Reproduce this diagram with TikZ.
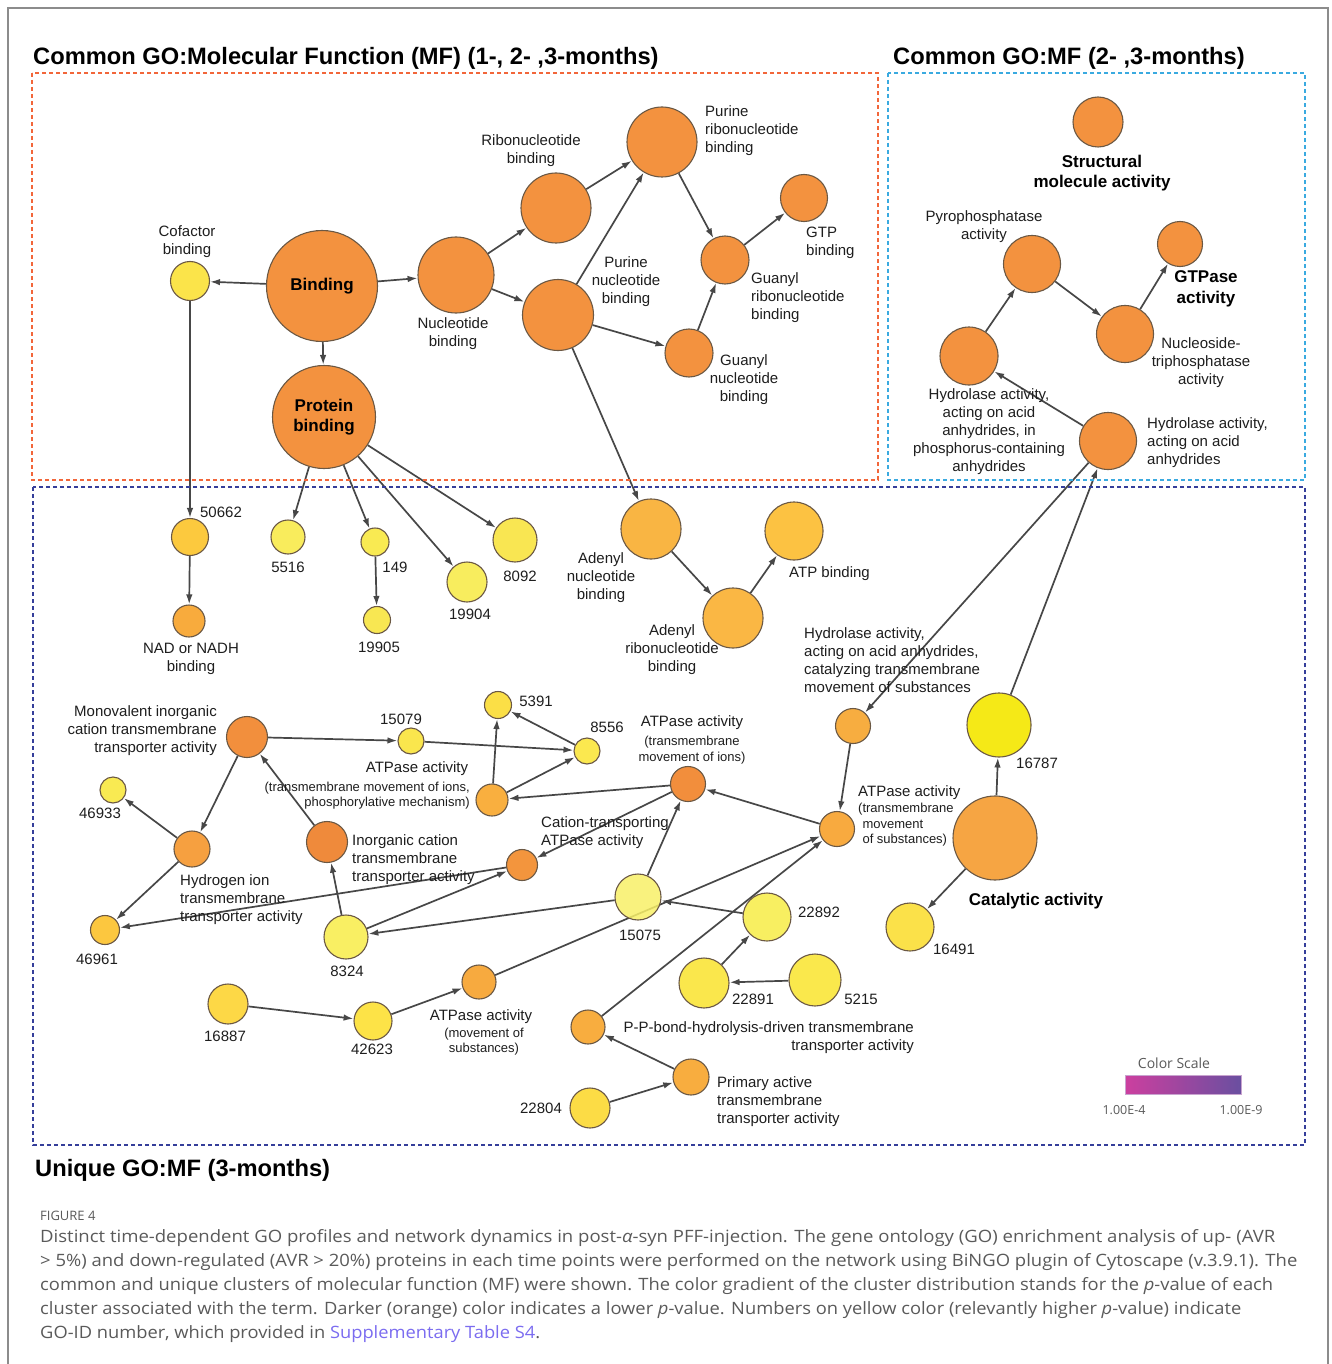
\documentclass[tikz,border=0pt]{standalone}
\usepackage{fontspec}
\usepackage{graphicx}
\setmainfont{Liberation Sans}
\newfontfamily\capfont{Open Sans}
\usetikzlibrary{arrows.meta}
\pgfdeclarelayer{background}
\pgfdeclarelayer{edges}
\pgfsetlayers{background,edges,main}
\definecolor{nodeline}{HTML}{6B5844}
\definecolor{edgecol}{HTML}{474747}
\definecolor{txtcol}{HTML}{1E1E1E}
\definecolor{capgray}{HTML}{5A5A5A}
\definecolor{linkcol}{HTML}{7B6CF0}
\definecolor{frameGray}{HTML}{8C8C8C}
\definecolor{boxRed}{HTML}{F2663A}
\definecolor{boxLight}{HTML}{3AAAE0}
\definecolor{boxNavy}{HTML}{353E9A}
\definecolor{csL}{HTML}{CC3F9F}
\definecolor{csR}{HTML}{6A4FA0}
\definecolor{cOr}{HTML}{F3923F}
\definecolor{cCof}{HTML}{FBE44A}
\definecolor{c50662}{HTML}{FCC93E}
\definecolor{cNad}{HTML}{F8AB3D}
\definecolor{c5516}{HTML}{F9EC5C}
\definecolor{c149}{HTML}{F9EA52}
\definecolor{c19905}{HTML}{F8E752}
\definecolor{c19904}{HTML}{F8ED5E}
\definecolor{c8092}{HTML}{F9E652}
\definecolor{cAden}{HTML}{F9B543}
\definecolor{cAdenR}{HTML}{FAB744}
\definecolor{cAtpB}{HTML}{FCC242}
\definecolor{cHydCat}{HTML}{F7AD40}
\definecolor{c16787}{HTML}{F5E917}
\definecolor{cCat}{HTML}{F6A543}
\definecolor{c16491}{HTML}{FBE149}
\definecolor{cAtpSub}{HTML}{F8AA3F}
\definecolor{cAtpIons}{HTML}{F28E3C}
\definecolor{cCation}{HTML}{F3953D}
\definecolor{c15075}{HTML}{F8F068}
\definecolor{c22892}{HTML}{F8EF61}
\definecolor{c22891}{HTML}{FAE74C}
\definecolor{c5215}{HTML}{FAE84C}
\definecolor{cPP}{HTML}{F8AD3F}
\definecolor{cPrim}{HTML}{F8AD3F}
\definecolor{c22804}{HTML}{FCDC45}
\definecolor{cAtpMov}{HTML}{F7AA3F}
\definecolor{c42623}{HTML}{FDE347}
\definecolor{c16887}{HTML}{FDD846}
\definecolor{c8324}{HTML}{F9EF63}
\definecolor{cInorg}{HTML}{EF8A3B}
\definecolor{cMono}{HTML}{F28F3D}
\definecolor{cHydrogen}{HTML}{F6A040}
\definecolor{c46933}{HTML}{F9EA52}
\definecolor{c46961}{HTML}{FCC73F}
\definecolor{c15079}{HTML}{FAE64D}
\definecolor{c5391}{HTML}{FBDF46}
\definecolor{c8556}{HTML}{FBE84F}
\definecolor{cAtpPhos}{HTML}{F9AF3F}
\begin{document}
\begin{tikzpicture}[x=1pt,y=-1pt,
  gn/.style 2 args={circle,draw=nodeline,line width=1.1pt,fill=#1,minimum size=#2pt,inner sep=0pt},
  ed/.style={draw=edgecol,line width=1.7pt,-{Latex[length=10pt,width=6.5pt]}},
  lb/.style={inner sep=0pt,align=center,font=\fontsize{15}{18}\selectfont,text=txtcol},
  lbl/.style={lb,align=left,anchor=west},
  lbr/.style={lb,align=right,anchor=east},
  lbs/.style={inner sep=0pt,align=center,font=\fontsize{13}{15.5}\selectfont,text=txtcol},
  bl/.style={inner sep=0pt,align=center,font=\bfseries\fontsize{17}{20.5}\selectfont,text=black},
  ttl/.style={inner sep=0pt,anchor=base west,font=\bfseries\fontsize{23.7}{28}\selectfont,text=black},
  capl/.style={inner sep=0pt,anchor=west,font=\capfont\fontsize{17}{20}\selectfont,text=capgray},
  dbox/.style={line width=2pt,dash pattern=on 4pt off 3pt}]
\useasboundingbox (0,0) rectangle (1331,1364);
\begin{pgfonlayer}{background}
\fill[white] (0,0) rectangle (1331,1364);
\end{pgfonlayer}
\draw[frameGray,line width=1.5pt] (8,1364) -- (8,8) -- (1328,8) -- (1328,1364);

% titles
\node[ttl] (t1) at (33,65) {Common GO:Molecular Function (MF) (1-, 2- ,3-months)};
\node[ttl] (t2) at (893,65) {Common GO:MF (2- ,3-months)};
\node[ttl] (t3) at (35,1176) {Unique GO:MF (3-months)};

% dashed boxes
\draw[dbox,boxRed] (32,73) rectangle (878,480);
\draw[dbox,boxLight] (888,73) rectangle (1305,480);
\draw[dbox,boxNavy] (33,487) rectangle (1305,1145);

% ---------- top-left cluster
\node[gn={cOr}{111},font=\bfseries\fontsize{17}{20}\selectfont] (binding) at (322,286) {Binding};
\node[gn={cOr}{103},align=center,font=\bfseries\fontsize{17}{20.5}\selectfont] (protein) at (324,417) {Protein\\binding};
\node[gn={cCof}{39}] (cofactor) at (190,281) {};
\node[gn={cOr}{76}] (nucleotide) at (456,275) {};
\node[gn={cOr}{70}] (ribonuc) at (556,208) {};
\node[gn={cOr}{71}] (purnuc) at (558,315) {};
\node[gn={cOr}{70}] (purribo) at (662,142) {};
\node[gn={cOr}{48}] (guanylribo) at (725,260) {};
\node[gn={cOr}{47}] (gtp) at (804,198) {};
\node[gn={cOr}{48}] (guanylnuc) at (689,353) {};
\node[lb] (lcof) at (187,242) {Cofactor\\binding};
\node[lb] (lnuc) at (453,334) {Nucleotide\\binding};
\node[lb] (lribo) at (531,151) {Ribonucleotide\\binding};
\node[lb] (lpurnuc) at (626,282) {Purine\\nucleotide\\binding};
\node[lbl] (lpurribo) at (705,131) {Purine\\ribonucleotide\\binding};
\node[lbl] (lgtp) at (806,243) {GTP\\binding};
\node[lbl] (lgribo) at (751,298) {Guanyl\\ribonucleotide\\binding};
\node[lb] (lgnuc) at (744,380) {Guanyl\\nucleotide\\binding};

% ---------- top-right cluster
\node[gn={cOr}{50}] (structural) at (1098,122) {};
\node[bl] (lstruct) at (1102,173) {Structural\\molecule activity};
\node[gn={cOr}{57}] (pyro) at (1032,264) {};
\node[lb] (lpyro) at (984,227) {Pyrophosphatase\\activity};
\node[gn={cOr}{45}] (gtpase) at (1180,244) {};
\node[bl] (lgtpase) at (1206,289) {GTPase\\activity};
\node[gn={cOr}{57}] (ntpase) at (1125,334) {};
\node[lb] (lntpase) at (1201,363) {Nucleoside-\\triphosphatase\\activity};
\node[gn={cOr}{58}] (hydphos) at (969,356) {};
\node[lb] (lhydphos) at (989,432) {Hydrolase activity,\\acting on acid\\anhydrides, in\\phosphorus-containing\\anhydrides};
\node[gn={cOr}{57}] (hydacid) at (1108,441) {};
\node[lbl] (lhydacid) at (1147,443) {Hydrolase activity,\\acting on acid\\anhydrides};

% ---------- bottom cluster
\node[gn={c50662}{37}] (n50662) at (190,537) {};
\node[lb] (l50662) at (221,512) {50662};
\node[gn={cNad}{32}] (nad) at (189,621) {};
\node[lb] (lnad) at (191,659) {NAD or NADH\\binding};
\node[gn={c5516}{34}] (n5516) at (288,537) {};
\node[lb] (l5516) at (288,567) {5516};
\node[gn={c149}{28}] (n149) at (375,542) {};
\node[lb] (l149) at (395,567) {149};
\node[gn={c19905}{27}] (n19905) at (377,620) {};
\node[lb] (l19905) at (379,647) {19905};
\node[gn={c19904}{40}] (n19904) at (467,582) {};
\node[lb] (l19904) at (470,614) {19904};
\node[gn={c8092}{44}] (n8092) at (515,540) {};
\node[lb] (l8092) at (520,576) {8092};
\node[gn={cAden}{60}] (adenylnuc) at (651,529) {};
\node[lb] (ladenylnuc) at (601,578) {Adenyl\\nucleotide\\binding};
\node[gn={cAdenR}{60}] (adenylribo) at (733,618) {};
\node[lb] (ladenylribo) at (672,650) {Adenyl\\ribonucleotide\\binding};
\node[gn={cAtpB}{58}] (atpbind) at (794,531) {};
\node[lbl] (latpbind) at (789,574) {ATP binding};
\node[gn={cHydCat}{35}] (hydcat) at (853,726) {};
\node[lbl] (lhydcat) at (804,660) {Hydrolase activity,\\acting on acid anhydrides,\\catalyzing transmembrane\\movement of substances};
\node[gn={c16787}{64}] (n16787) at (999,725) {};
\node[lb] (l16787) at (1037,763) {16787};
\node[gn={cCat}{84}] (catalytic) at (995,838) {};
\node[bl] (lcatalytic) at (1036,901) {Catalytic activity};
\node[gn={c16491}{48}] (n16491) at (910,927) {};
\node[lb] (l16491) at (954,949) {16491};
\node[gn={cAtpSub}{35}] (atpsub) at (837,829) {};
\node[lbl] (latpsub) at (858,793) {ATPase activity};
\node[lbs,align=left,anchor=west] (latpsub2) at (858,825) {(transmembrane\\\hphantom{(}movement\\\hphantom{(}of substances)};
\node[gn={cAtpIons}{35}] (atpions) at (688,784) {};
\node[lb] (latpions) at (692,723) {ATPase activity};
\node[lbs] (latpions2) at (692,750) {(transmembrane\\movement of ions)};
\node[gn={cCation}{31}] (cation) at (522,865) {};
\node[lbl] (lcation) at (541,833) {Cation-transporting\\ATPase activity};
\node[gn={c15075}{46},fill opacity=0.85] (n15075) at (638,897) {};
\node[lb] (l15075) at (640,935) {15075};
\node[gn={c22892}{48}] (n22892) at (767,917) {};
\node[lb] (l22892) at (819,912) {22892};
\node[gn={c22891}{50}] (n22891) at (704,983) {};
\node[lb] (l22891) at (753,999) {22891};
\node[gn={c5215}{52}] (n5215) at (815,980) {};
\node[lb] (l5215) at (861,999) {5215};
\node[gn={cPP}{34}] (pp) at (588,1027) {};
\node[lbr] (lpp) at (914,1038) {P-P-bond-hydrolysis-driven transmembrane\\transporter activity};
\node[gn={cPrim}{36}] (primary) at (691,1077) {};
\node[lbl] (lprimary) at (717,1102) {Primary active\\transmembrane\\transporter activity};
\node[gn={c22804}{40}] (n22804) at (590,1108) {};
\node[lb] (l22804) at (541,1108) {22804};
\node[gn={cAtpMov}{34}] (atpmov) at (479,982) {};
\node[lb] (latpmov) at (481,1017) {ATPase activity};
\node[lbs] (latpmov2) at (484,1041.5) {(movement of\\substances)};
\node[gn={c42623}{38}] (n42623) at (373,1021) {};
\node[lb] (l42623) at (372,1049) {42623};
\node[gn={c16887}{40}] (n16887) at (228,1004) {};
\node[lb] (l16887) at (225,1036) {16887};
\node[gn={c8324}{44}] (n8324) at (346,937) {};
\node[lb] (l8324) at (347,971) {8324};
\node[gn={cInorg}{41}] (inorg) at (327,842) {};
\node[lbl] (linorg) at (352,860) {Inorganic cation\\transmembrane\\transporter activity};
\node[gn={cMono}{41}] (mono) at (247,737) {};
\node[lbr] (lmono) at (217,731) {Monovalent inorganic\\cation transmembrane\\transporter activity};
\node[gn={c15079}{26}] (n15079) at (411,741) {};
\node[lb] (l15079) at (401,719) {15079};
\node[gn={c5391}{27}] (n5391) at (498,705) {};
\node[lb] (l5391) at (536,701) {5391};
\node[gn={c8556}{26}] (n8556) at (587,751) {};
\node[lb] (l8556) at (607,727) {8556};
\node[gn={cAtpPhos}{32}] (atpphos) at (492,800) {};
\node[lb] (latpphos) at (417,769) {ATPase activity};
\node[lbs,align=right,anchor=east] (latpphos2) at (470,795.5) {(transmembrane movement of ions,\\phosphorylative mechanism)};
\node[gn={c46933}{26}] (n46933) at (113,790) {};
\node[lb] (l46933) at (100,813) {46933};
\node[gn={cHydrogen}{36}] (hydrogen) at (192,849) {};
\node[lbl] (lhydrogen) at (180,900) {Hydrogen ion\\transmembrane\\transporter activity};
\node[gn={c46961}{29}] (n46961) at (105,930) {};
\node[lb] (l46961) at (97,959) {46961};

% color scale
\node[minimum width=116pt,minimum height=19pt,inner sep=0pt,left color=csL,right color=csR,draw=csL!40!csR!50,line width=0.6pt] (cscale) at (1183,1084.5) {};
\node[inner sep=0pt,font=\capfont\fontsize{14}{16}\selectfont,text=capgray] (cstitle) at (1174,1063) {Color Scale};
\node[inner sep=0pt,font=\capfont\fontsize{12.5}{14}\selectfont,text=capgray] (csl) at (1124,1110) {1.00E-4};
\node[inner sep=0pt,font=\capfont\fontsize{12.5}{14}\selectfont,text=capgray] (csr) at (1241,1110) {1.00E-9};

% edges
\begin{pgfonlayer}{edges}
\draw[ed] (binding) -- (cofactor);
\draw[ed] (binding) -- (nucleotide);
\draw[ed] (binding) -- (protein);
\draw[ed] (nucleotide) -- (ribonuc);
\draw[ed] (nucleotide) -- (purnuc);
\draw[ed] (ribonuc) -- (purribo);
\draw[ed] (purnuc) -- (purribo);
\draw[ed] (purnuc) -- (guanylnuc);
\draw[ed] (purnuc) -- (adenylnuc);
\draw[ed] (purribo) -- (guanylribo);
\draw[ed] (guanylribo) -- (gtp);
\draw[ed] (guanylnuc) -- (guanylribo);
\draw[ed] (cofactor) -- (n50662);
\draw[ed] (n50662) -- (nad);
\draw[ed] (protein) -- (n5516);
\draw[ed] (protein) -- (n149);
\draw[ed] (protein) -- (n19904);
\draw[ed] (protein) -- (n8092);
\draw[ed] (n149) -- (n19905);
\draw[ed] (adenylnuc) -- (adenylribo);
\draw[ed] (adenylribo) -- (atpbind);
\draw[ed] (hydphos) -- (pyro);
\draw[ed] (pyro) -- (ntpase);
\draw[ed] (ntpase) -- (gtpase);
\draw[ed] (hydacid) -- (hydphos);
\draw[ed] (hydacid) -- (hydcat);
\draw[ed] (n16787) -- (hydacid);
\draw[ed] (catalytic) -- (n16787);
\draw[ed] (catalytic) -- (n16491);
\draw[ed] (hydcat) -- (atpsub);
\draw[ed] (atpsub) -- (atpions);
\draw[ed] (atpions) -- (atpphos);
\draw[ed] (atpphos) -- (n5391);
\draw[ed] (atpphos) -- (n8556);
\draw[ed] (n8556) -- (n5391);
\draw[ed] (n15079) -- (n8556);
\draw[ed] (mono) -- (n15079);
\draw[ed] (mono) -- (hydrogen);
\draw[ed] (inorg) -- (mono);
\draw[ed] (hydrogen) -- (n46933);
\draw[ed] (hydrogen) -- (n46961);
\draw[ed] (cation) -- (n46961);
\draw[ed] (atpions) -- (cation);
\draw[ed] (n8324) -- (inorg);
\draw[ed] (n8324) -- (cation);
\draw[ed] (n15075) -- (n8324);
\draw[ed] (n15075) -- (atpions);
\draw[ed] (atpmov) -- (atpsub);
\draw[ed] (n22892) -- (n15075);
\draw[ed] (n22891) -- (n22892);
\draw[ed] (n5215) -- (n22891);
\draw[ed] (pp) -- (atpsub);
\draw[ed] (primary) -- (pp);
\draw[ed] (n22804) -- (primary);
\draw[ed] (n16887) -- (n42623);
\draw[ed] (n42623) -- (atpmov);
\end{pgfonlayer}

% caption
\node[inner sep=0pt,anchor=west,font=\capfont\fontsize{13}{15}\selectfont,text=capgray] (figlab) at (40,1216) {FIGURE 4};
\node[capl] (cap1) at (40,1238) {\resizebox{1235pt}{\height}{Distinct time-dependent GO profiles and network dynamics in post-{\itshape α}-syn PFF-injection. The gene ontology (GO) enrichment analysis of up- (AVR}};
\node[capl] (cap2) at (40,1262) {\resizebox{1257pt}{\height}{> 5\%) and down-regulated (AVR > 20\%) proteins in each time points were performed on the network using BiNGO plugin of Cytoscape (v.3.9.1). The}};
\node[capl] (cap3) at (40,1286) {\resizebox{1233pt}{\height}{common and unique clusters of molecular function (MF) were shown. The color gradient of the cluster distribution stands for the {\itshape p}-value of each}};
\node[capl] (cap4) at (40,1310) {\resizebox{1201pt}{\height}{cluster associated with the term. Darker (orange) color indicates a lower {\itshape p}-value. Numbers on yellow color (relevantly higher {\itshape p}-value) indicate}};
\node[capl] (cap5) at (40,1334) {\resizebox{500pt}{\height}{GO-ID number, which provided in \textcolor{linkcol}{Supplementary Table S4}.}};
\end{tikzpicture}
\end{document}
